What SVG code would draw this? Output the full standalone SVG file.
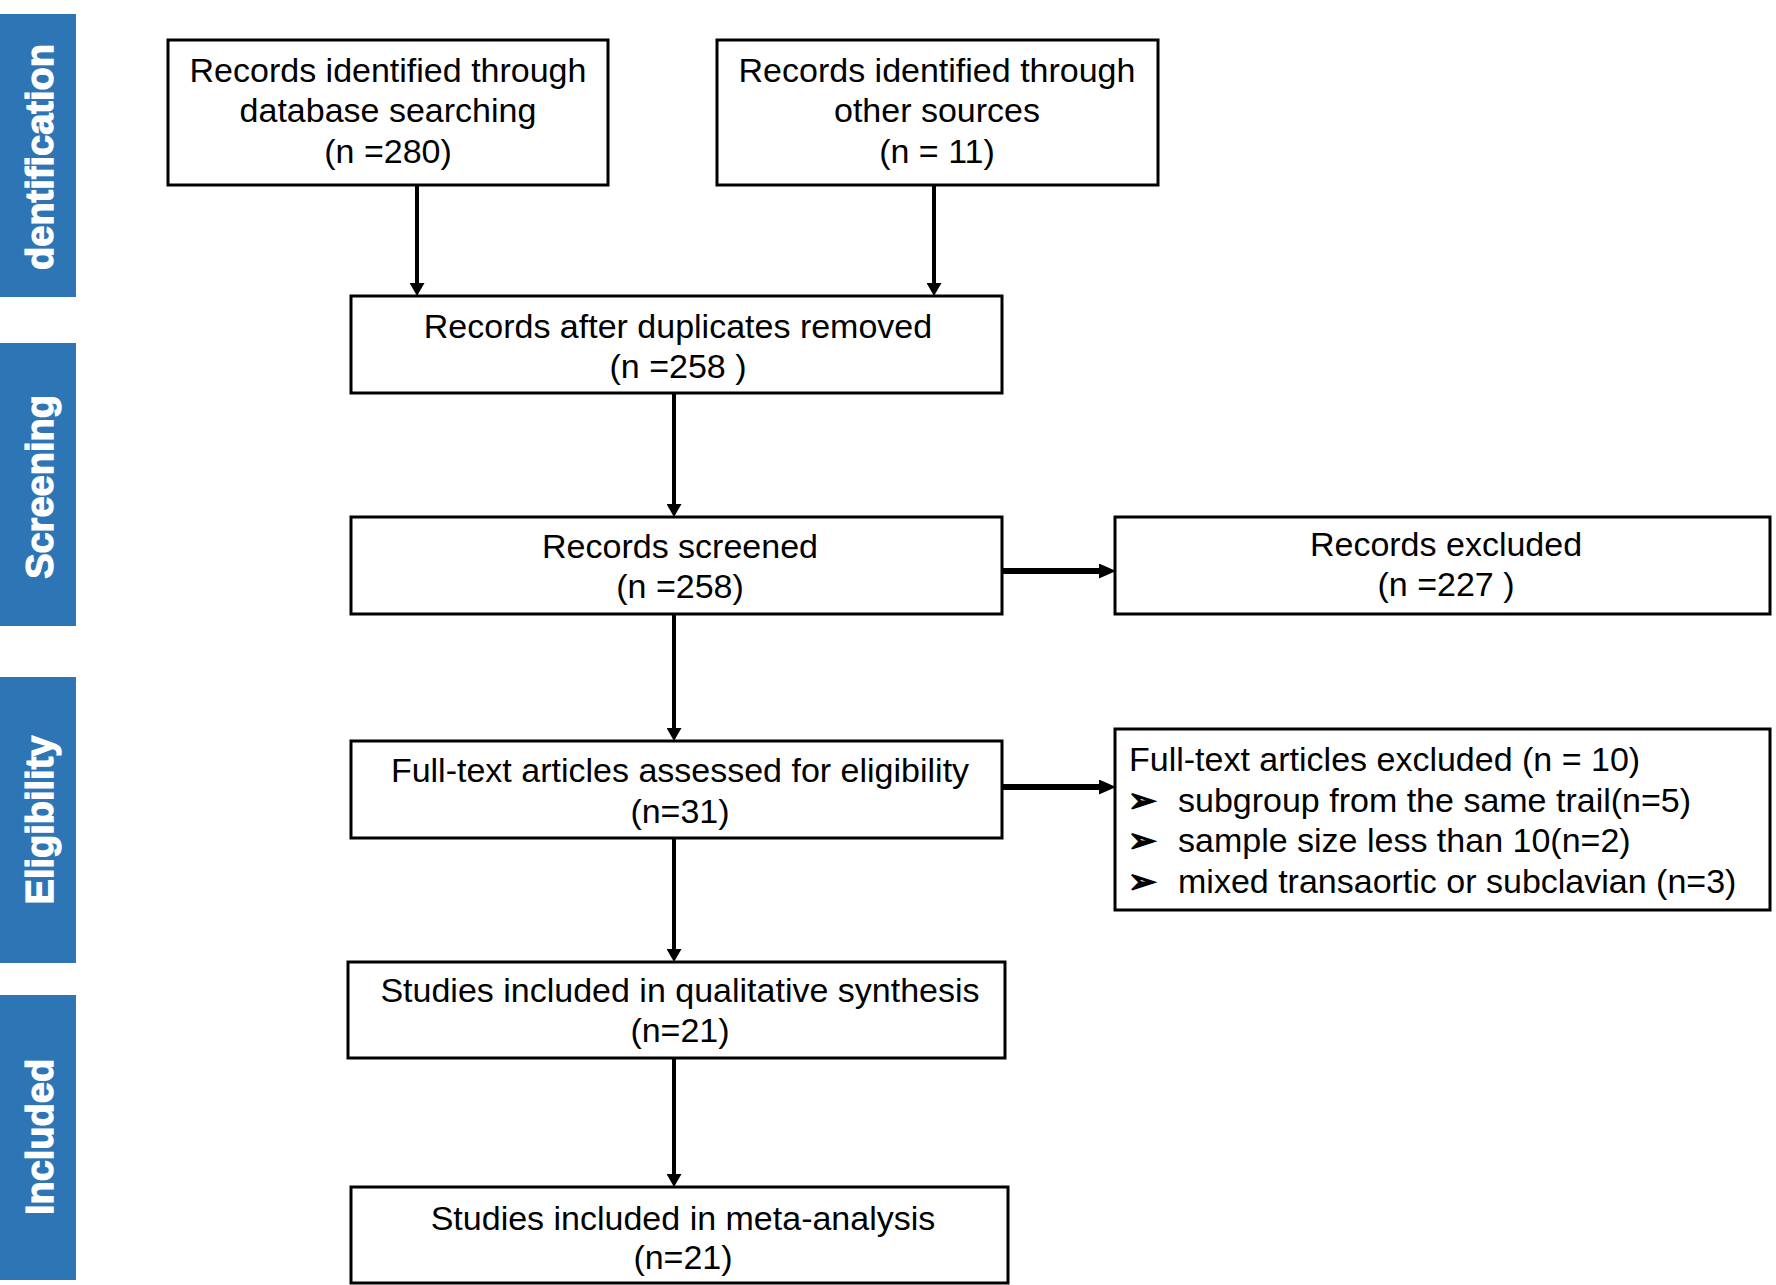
<svg xmlns="http://www.w3.org/2000/svg" width="1776" height="1285" viewBox="0 0 1776 1285">
<style>
.band{fill:#2E75B6}
.bt{font-family:"Liberation Sans",Arial,sans-serif;font-weight:bold;font-size:38px;fill:#ffffff;stroke:#ffffff;stroke-width:1.2;text-anchor:middle}
.box{fill:#ffffff;stroke:#000000;stroke-width:3}
.t{font-family:"Liberation Sans",Arial,sans-serif;font-size:34px;fill:#000000;text-anchor:middle}
.tl{font-family:"Liberation Sans",Arial,sans-serif;font-size:34px;fill:#000000}
.bul{font-family:"DejaVu Sans",sans-serif;font-size:34px;stroke:#000000;stroke-width:1.6}
.c{stroke:#000000;stroke-width:4;fill:none}
.cb{stroke:#000000;stroke-width:6;fill:none}
</style>
<defs>
<marker id="ah" markerUnits="userSpaceOnUse" viewBox="0 0 13 15" refX="0" refY="7.5" markerWidth="13" markerHeight="15" orient="auto">
<path d="M0,0 L13,7.5 L0,15 z" fill="#000000"/>
</marker>
<marker id="ahb" markerUnits="userSpaceOnUse" viewBox="0 0 17 15" refX="0" refY="7.5" markerWidth="17" markerHeight="15" orient="auto">
<path d="M0,0 L17,7.5 L0,15 z" fill="#000000"/>
</marker>
</defs>
<rect width="1776" height="1285" fill="#ffffff"/>
<g id="bands">
<g id="band-identification"><rect class="band" x="0" y="14" width="76" height="283"/><text class="bt" transform="translate(53,157) rotate(-90)">dentification</text></g>
<g id="band-screening"><rect class="band" x="0" y="343" width="76" height="283"/><text class="bt" transform="translate(53,487) rotate(-90)">Screening</text></g>
<g id="band-eligibility"><rect class="band" x="0" y="677" width="76" height="286"/><text class="bt" transform="translate(53,820) rotate(-90)">Eligibility</text></g>
<g id="band-included"><rect class="band" x="0" y="995" width="76" height="285"/><text class="bt" transform="translate(53,1137) rotate(-90)">Included</text></g>
</g>
<g id="connectors">
<path class="c" d="M417,185 V283" marker-end="url(#ah)"/>
<path class="c" d="M934,185 V283" marker-end="url(#ah)"/>
<path class="c" d="M674,393 V504" marker-end="url(#ah)"/>
<path class="c" d="M674,614 V728" marker-end="url(#ah)"/>
<path class="c" d="M674,838 V949" marker-end="url(#ah)"/>
<path class="c" d="M674,1058 V1174" marker-end="url(#ah)"/>
<path class="cb" d="M1002,571 H1099" marker-end="url(#ahb)"/>
<path class="cb" d="M1002,787 H1099" marker-end="url(#ahb)"/>
</g>
<g id="n-db"><rect class="box" x="168" y="40" width="440" height="145"/>
<text class="t" x="388" y="82">Records identified through</text>
<text class="t" x="388" y="122">database searching</text>
<text class="t" x="388" y="163">(n =280)</text></g>
<g id="n-other"><rect class="box" x="717" y="40" width="441" height="145"/>
<text class="t" x="937" y="82">Records identified through</text>
<text class="t" x="937" y="122">other sources</text>
<text class="t" x="937" y="163">(n = 11)</text></g>
<g id="n-dup"><rect class="box" x="351" y="296" width="651" height="97"/>
<text class="t" x="678" y="338">Records after duplicates removed</text>
<text class="t" x="678" y="378">(n =258 )</text></g>
<g id="n-screened"><rect class="box" x="351" y="517" width="651" height="97"/>
<text class="t" x="680" y="558">Records screened</text>
<text class="t" x="680" y="598">(n =258)</text></g>
<g id="n-excl"><rect class="box" x="1115" y="517" width="655" height="97"/>
<text class="t" x="1446" y="556">Records excluded</text>
<text class="t" x="1446" y="596">(n =227 )</text></g>
<g id="n-fulltext"><rect class="box" x="351" y="741" width="651" height="97"/>
<text class="t" x="680" y="782">Full-text articles assessed for eligibility</text>
<text class="t" x="680" y="823">(n=31)</text></g>
<g id="n-ftexcl"><rect class="box" x="1115" y="729" width="655" height="181"/>
<text class="tl" x="1129" y="771">Full-text articles excluded (n = 10)</text>
<text class="tl" x="1128" y="812"><tspan class="bul">➢</tspan><tspan x="1178">subgroup from  the same trail(n=5)</tspan></text>
<text class="tl" x="1128" y="852"><tspan class="bul">➢</tspan><tspan x="1178">sample size less than 10(n=2)</tspan></text>
<text class="tl" x="1128" y="893"><tspan class="bul">➢</tspan><tspan x="1178">mixed transaortic or subclavian (n=3)</tspan></text></g>
<g id="n-qual"><rect class="box" x="348" y="962" width="657" height="96"/>
<text class="t" x="680" y="1002">Studies included in qualitative synthesis</text>
<text class="t" x="680" y="1042">(n=21)</text></g>
<g id="n-meta"><rect class="box" x="351" y="1187" width="657" height="96"/>
<text class="t" x="683" y="1230">Studies included in meta-analysis</text>
<text class="t" x="683" y="1269">(n=21)</text></g>
</svg>
